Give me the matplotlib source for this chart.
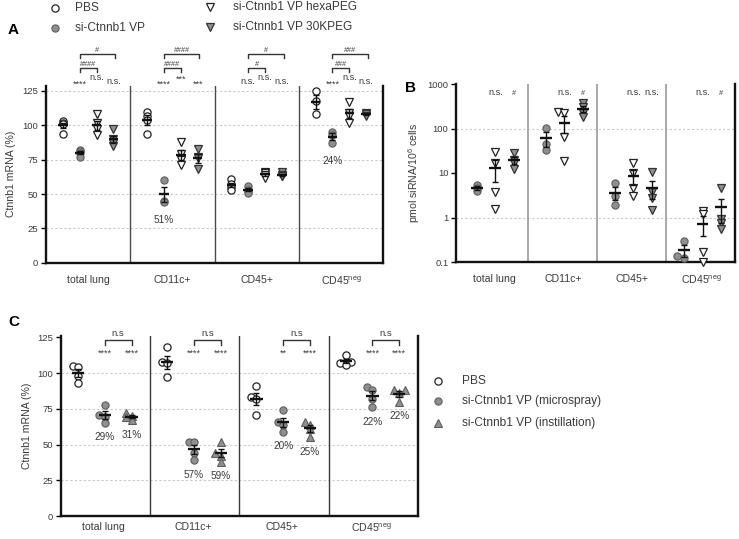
"""Ctnnb1 knockdown / siRNA uptake panels A, B, C."""
# %% Imports
import numpy as np
import matplotlib

matplotlib.use("Agg")
from matplotlib import pyplot as plt
from matplotlib.lines import Line2D

plt.rcParams["font.family"] = ["Liberation Sans", "DejaVu Sans"]
plt.rcParams["mathtext.fontset"] = "custom"
plt.rcParams["mathtext.rm"] = "Liberation Sans"
plt.rcParams["mathtext.it"] = "Liberation Sans:italic"

# %% Data
groups = ["total lung", "CD11c+", "CD45+", r"CD45$^{\mathrm{neg}}$"]

# panel A: Ctnnb1 mRNA (%)
A_pbs = [[103, 102, 101, 94], [110, 107, 104, 94], [61, 57, 55, 53], [125, 118, 108]]
A_vp = [[82, 81, 80, 77], [60, 45, 44], [56, 53, 52, 51], [95, 93, 87]]
A_hexa = [[108, 102, 97, 93], [88, 79, 75, 71], [66, 65, 64, 62], [117, 109, 107, 102]]
A_30k = [[97, 90, 87, 85], [83, 77, 76, 68], [66, 64, 63, 63], [109, 108, 107]]
A_pct_group = [1, 3]
A_pct_text = ["51%", "24%"]
A_sig_vp = ["****", "****", "n.s.", "****"]
A_sig_hexa = ["n.s.", "***", "n.s.", "n.s."]
A_sig_30k = ["n.s.", "***", "n.s.", "n.s."]
A_hash_hexa = ["####", "####", "#", "###"]
A_hash_30k = ["#", "####", "#", "###"]

# panel B: pmol siRNA / 10^6 cells
B_vp = [[5.4, 4.6, 3.9], [104, 44, 33], [5.9, 3.1, 1.9], [0.29, 0.12, 0.135]]
B_hexa = [[30, 16.6, 3.65, 1.55], [239, 220, 64, 19], [17.2, 9.9, 4.6, 3.0], [1.42, 1.2, 0.165, 0.1]]
B_30k = [[28, 20, 17, 12], [381, 310, 227, 179], [10.5, 3.8, 2.8, 1.5], [4.57, 0.92, 0.75, 0.55]]
B_sig_hexa = ["n.s.", "n.s.", "n.s.", "n.s."]
B_sig_30k = ["#", "#", "n.s.", "#"]

# panel C: Ctnnb1 mRNA (%)
C_pbs = [[105, 104, 98, 93], [118, 108, 107, 97], [91, 83, 82, 71], [113, 108, 107, 106]]
C_micro = [[78, 71, 69, 65], [52, 52, 44, 39], [74, 66, 64, 59], [90.5, 88.4, 82, 76]]
C_inst = [[72, 70, 69, 67], [52, 44, 42, 38], [66, 64, 61, 55], [88, 88, 86, 80]]
C_pct_micro = ["29%", "57%", "20%", "22%"]
C_pct_inst = ["31%", "59%", "25%", "22%"]
C_sig_micro = ["****", "****", "**", "****"]
C_sig_inst = ["****", "****", "****", "****"]
C_bracket = ["n.s", "n.s", "n.s", "n.s"]

# %% Styles
W, H = 739, 539
GRAY = "#8f8f8f"
EDGE = "#5e5e5e"
TXT = "#3a3a3a"
st_pbs = dict(marker="o", mfc="white", mec="#222222", mew=0.9, ms=5.2)
st_vp = dict(marker="o", mfc=GRAY, mec=EDGE, mew=0.8, ms=5.2)
st_hexa = dict(marker="v", mfc="white", mec="#222222", mew=0.9, ms=5.5)
st_30k = dict(marker="v", mfc=GRAY, mec="#333333", mew=0.9, ms=5.5)
st_inst = dict(marker="^", mfc=GRAY, mec=EDGE, mew=0.8, ms=5.2)


def box(x0, y0, x1, y1):
    return [x0 / W, 1 - y1 / H, (x1 - x0) / W, (y1 - y0) / H]


def spread(vals, thr, step):
    vals = np.asarray(vals, dtype=float)
    offs = np.zeros(len(vals))
    placed = []
    for i in np.argsort(vals):
        for k in [0, -1, 1, -2, 2]:
            if all(abs(vals[i] - vals[j]) >= thr or offs[j] != k * step for j in placed):
                offs[i] = k * step
                break
        placed.append(i)
    return offs


def series(ax, x, vals, st, half, thr=0.0, step=0.0, log=False):
    vals = np.asarray(vals, dtype=float)
    key = np.log10(vals) if log else vals
    xs = x + spread(key, thr, step)
    ax.plot(xs, vals, linestyle="None", clip_on=False, zorder=3, **st)
    m = vals.mean()
    sem = vals.std(ddof=1) / np.sqrt(len(vals))
    ax.errorbar([x], [m], yerr=[[sem], [sem]], fmt="none", ecolor="#111111",
                elinewidth=1.0, capsize=2.2, capthick=1.0, zorder=4)
    ax.plot([x - half, x + half], [m, m], color="#111111", lw=1.7, zorder=5,
            solid_capstyle="butt")


def style_axes(ax):
    ax.spines["top"].set_visible(False)
    for s in ["left", "bottom", "right"]:
        ax.spines[s].set_linewidth(1.7)
        ax.spines[s].set_color("#111111")
    ax.tick_params(axis="y", length=3.5, width=1.0, labelsize=6.8,
                   labelcolor=TXT, pad=2)
    ax.tick_params(axis="y", which="minor", length=0)
    ax.tick_params(axis="x", length=0, labelsize=7.6, labelcolor=TXT)


def bracket(ax, x0, x1, ytop, yleg, label, ylab, size):
    ax.plot([x0, x0, x1, x1], [yleg, ytop, ytop, yleg], color="#333333",
            lw=1.0, clip_on=False)
    ax.text((x0 + x1) / 2, ylab, label, ha="center", va="baseline",
            fontsize=size, color=TXT, clip_on=False)


fig = plt.figure(figsize=(W / 100, H / 100), dpi=100)

# %% Panel A
axA = fig.add_axes(box(46, 85.5, 383, 262.7))
axA.set_xlim(0, 20)
axA.set_ylim(0, 129)
style_axes(axA)
axA.set_yticks([0, 25, 50, 75, 100, 125])
for yv in [25, 50, 75, 100, 125]:
    axA.axhline(yv, color="#c9c9c9", lw=0.8, ls=(0, (2, 2)), zorder=0)
for xv in [5, 10, 15]:
    axA.axvline(xv, color="#4a4a4a", lw=1.0, zorder=1)
axA.set_xticks([g * 5 + 2.5 for g in range(4)])
axA.set_xticklabels(groups)
axA.tick_params(axis="x", pad=8.5)
axA.set_ylabel("Ctnnb1 mRNA (%)", fontsize=7.6, color=TXT, labelpad=5)

for g in range(4):
    base = g * 5 + 1
    series(axA, base, A_pbs[g], st_pbs, 0.28)
    series(axA, base + 1, A_vp[g], st_vp, 0.28)
    series(axA, base + 2, A_hexa[g], st_hexa, 0.28)
    series(axA, base + 3, A_30k[g], st_30k, 0.28)
    for k, (lab, dy) in enumerate([(A_sig_vp[g], 0), (A_sig_hexa[g], 3.5), (A_sig_30k[g], 0)]):
        yb = 128.3 if lab.startswith("*") else 129.8
        axA.text(base + 1 + k, yb + dy, lab, ha="center", va="baseline",
                 fontsize=6.6, color=TXT, clip_on=False)
    bracket(axA, base + 1, base + 2, 141.7, 138.8, A_hash_hexa[g], 143.3, 5.2)
    bracket(axA, base + 1, base + 3.1, 151.9, 149.0, A_hash_30k[g], 153.4, 5.2)

for g, t in zip(A_pct_group, A_pct_text):
    axA.text(g * 5 + 2, min(A_vp[g]) - 13, t, ha="center", va="center",
             fontsize=7.2, color=TXT)

# legend A
leg_A = [(55, 8, st_pbs, 75, "PBS"), (55, 28, st_vp, 75, "si-Ctnnb1 VP"),
         (210, 7, st_hexa, 233, "si-Ctnnb1 VP hexaPEG"),
         (210, 27, st_30k, 233, "si-Ctnnb1 VP 30KPEG")]
for mx, my, st, tx, lab in leg_A:
    fig.add_artist(Line2D([mx / W], [1 - my / H], transform=fig.transFigure,
                          linestyle="None", **st))
    fig.text(tx / W, 1 - my / H, lab, fontsize=8.6, color=TXT, va="center")

fig.text(8 / W, 1 - 30 / H, "A", fontsize=11, fontweight="bold", va="center")

# %% Panel B
axB = fig.add_axes(box(456, 84, 735, 262))
axB.set_yscale("log")
axB.set_xlim(0, 4.04)
axB.set_ylim(0.1, 1000)
style_axes(axB)
axB.set_yticks([0.1, 1, 10, 100, 1000])
axB.set_yticklabels(["0.1", "1", "10", "100", "1000"])
for yv in [1, 100]:
    axB.axhline(yv, color="#c9c9c9", lw=0.8, ls=(0, (2, 2)), zorder=0)
for xv in [1.04, 2.04, 3.04]:
    axB.axvline(xv, color="#a8a8a8", lw=1.4, zorder=1)
axB.set_xticks([g + 0.55 for g in range(4)])
axB.set_xticklabels(groups)
axB.tick_params(axis="x", pad=8.5)
axB.set_ylabel(r"pmol siRNA/10$^{6}$ cells", fontsize=7.6, color=TXT, labelpad=4)

for g in range(4):
    series(axB, g + 0.30, B_vp[g], st_vp, 0.085, thr=0.06, step=0.1, log=True)
    series(axB, g + 0.57, B_hexa[g], st_hexa, 0.085, thr=0.04, step=0.1, log=True)
    series(axB, g + 0.84, B_30k[g], st_30k, 0.085, thr=0.04, step=0.1, log=True)
    axB.text(g + 0.57, 560, B_sig_hexa[g], ha="center", va="baseline",
             fontsize=6.6, color=TXT)
    axB.text(g + 0.84, 560, B_sig_30k[g], ha="center", va="baseline",
             fontsize=6.6 if B_sig_30k[g] != "#" else 5.2, color=TXT)

fig.text(405 / W, 1 - 88 / H, "B", fontsize=11, fontweight="bold", va="center")

# %% Panel C
axC = fig.add_axes(box(61, 336, 418, 516))
axC.set_xlim(0, 4)
axC.set_ylim(0, 126)
style_axes(axC)
axC.set_yticks([0, 25, 50, 75, 100, 125])
for yv in [25, 50, 75, 100]:
    axC.axhline(yv, color="#c9c9c9", lw=0.8, ls=(0, (2, 2)), zorder=0)
for xv in [1, 2, 3]:
    axC.axvline(xv, color="#3a3a3a", lw=1.0, zorder=1)
axC.set_xticks([g + 0.48 for g in range(4)])
axC.set_xticklabels(groups)
axC.tick_params(axis="x", pad=4)
axC.set_ylabel("Ctnnb1 mRNA (%)", fontsize=7.6, color=TXT, labelpad=4)

for g in range(4):
    series(axC, g + 0.19, C_pbs[g], st_pbs, 0.068, thr=3.0, step=0.06)
    series(axC, g + 0.49, C_micro[g], st_vp, 0.068, thr=3.0, step=0.06)
    series(axC, g + 0.79, C_inst[g], st_inst, 0.068, thr=3.0, step=0.06)
    axC.text(g + 0.49, min(C_micro[g]) - 10, C_pct_micro[g], ha="center",
             va="center", fontsize=7.2, color=TXT)
    axC.text(g + 0.79, min(C_inst[g]) - 10, C_pct_inst[g], ha="center",
             va="center", fontsize=7.2, color=TXT)
    axC.text(g + 0.49, 112.5, C_sig_micro[g], ha="center", va="baseline",
             fontsize=6.6, color=TXT, clip_on=False)
    axC.text(g + 0.79, 112.5, C_sig_inst[g], ha="center", va="baseline",
             fontsize=6.6, color=TXT, clip_on=False)
    bracket(axC, g + 0.49, g + 0.79, 123.4, 119.9, C_bracket[g], 125.8, 6.8)

leg_C = [(438, 381, st_pbs, "PBS"), (438, 401, st_vp, "si-Ctnnb1 VP (microspray)"),
         (438, 423, st_inst, "si-Ctnnb1 VP (instillation)")]
for mx, my, st, lab in leg_C:
    fig.add_artist(Line2D([mx / W], [1 - my / H], transform=fig.transFigure,
                          linestyle="None", **st))
    fig.text(462 / W, 1 - my / H, lab, fontsize=8.6, color=TXT, va="center")

fig.text(8 / W, 1 - 322 / H, "C", fontsize=11, fontweight="bold", va="center")

fig.savefig("out.png", dpi=100)
